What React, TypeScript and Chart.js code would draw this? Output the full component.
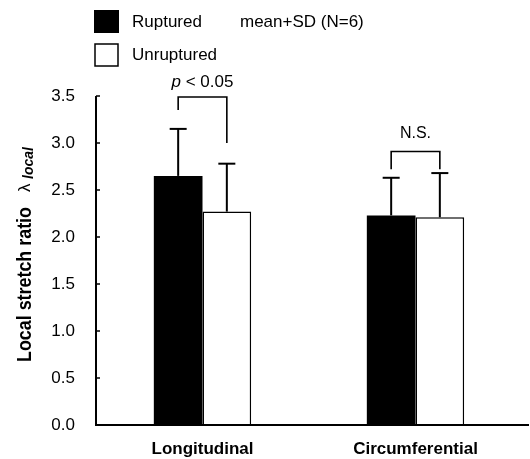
import React, { useEffect, useRef } from "react";
import { Chart, registerables } from "chart.js";

Chart.register(...registerables);

const categories = ["Longitudinal", "Circumferential"];
const rupturedMean = [2.65, 2.23];
const rupturedSD = [0.5, 0.4];
const unrupturedMean = [2.27, 2.21];
const unrupturedSD = [0.51, 0.47];
const yTicks = [0, 0.5, 1.0, 1.5, 2.0, 2.5, 3.0, 3.5];
// significance brackets per category
const bracketTop = [3.49, 2.91];
const bracketLeftEnd = [3.35, 2.72];
const bracketRightEnd = [3.0, 2.72];
const bracketLabels = ["p < 0.05", "N.S."];

const FONT = "'Liberation Sans', Arial, Helvetica, sans-serif";

const overlayPlugin = {
  id: "overlay",
  afterDatasetsDraw(chart: any) {
    const ctx = chart.ctx;
    const y = chart.scales.y;
    const area = chart.chartArea;
    ctx.save();
    ctx.strokeStyle = "#000";
    ctx.fillStyle = "#000";
    // error bars
    const sds = [rupturedSD, unrupturedSD];
    const means = [rupturedMean, unrupturedMean];
    for (let d = 0; d < 2; d++) {
      const meta = chart.getDatasetMeta(d);
      meta.data.forEach((bar: any, i: number) => {
        const yTop = y.getPixelForValue(means[d][i]);
        const yCap = y.getPixelForValue(means[d][i] + sds[d][i]);
        ctx.lineWidth = 2;
        ctx.beginPath();
        ctx.moveTo(bar.x, yTop);
        ctx.lineTo(bar.x, yCap);
        ctx.stroke();
        ctx.beginPath();
        ctx.moveTo(bar.x - 8.5, yCap);
        ctx.lineTo(bar.x + 8.5, yCap);
        ctx.stroke();
      });
    }
    // brackets
    const m0 = chart.getDatasetMeta(0);
    const m1 = chart.getDatasetMeta(1);
    for (let i = 0; i < categories.length; i++) {
      const xl = m0.data[i].x;
      const xr = m1.data[i].x;
      const yt = y.getPixelForValue(bracketTop[i]);
      const yl = y.getPixelForValue(bracketLeftEnd[i]);
      const yr = y.getPixelForValue(bracketRightEnd[i]);
      ctx.lineWidth = 1.6;
      ctx.beginPath();
      ctx.moveTo(xl, yl);
      ctx.lineTo(xl, yt);
      ctx.lineTo(xr, yt);
      ctx.lineTo(xr, yr);
      ctx.stroke();
      const cx = (xl + xr) / 2;
      ctx.textBaseline = "alphabetic";
      if (i === 0) {
        ctx.font = "italic 17px " + FONT;
        const wP = ctx.measureText("p").width;
        ctx.font = "17px " + FONT;
        const rest = " < 0.05";
        const wR = ctx.measureText(rest).width;
        const x0 = cx - (wP + wR) / 2;
        ctx.textAlign = "left";
        ctx.font = "italic 17px " + FONT;
        ctx.fillText("p", x0, yt - 10);
        ctx.font = "17px " + FONT;
        ctx.fillText(rest, x0 + wP, yt - 10);
      } else {
        ctx.font = "16px " + FONT;
        ctx.textAlign = "center";
        ctx.fillText(bracketLabels[i], cx, yt - 13);
      }
    }
    // inward y ticks
    ctx.lineWidth = 1.5;
    yTicks.forEach((v) => {
      const py = y.getPixelForValue(v);
      ctx.beginPath();
      ctx.moveTo(area.left, py);
      ctx.lineTo(area.left + 4, py);
      ctx.stroke();
    });
    // axes lines
    ctx.lineWidth = 2;
    ctx.beginPath();
    ctx.moveTo(area.left, area.top);
    ctx.lineTo(area.left, area.bottom);
    ctx.lineTo(529, area.bottom);
    ctx.stroke();

    // legend
    ctx.fillRect(94, 10, 25, 23);
    ctx.lineWidth = 1.5;
    ctx.strokeRect(95, 44, 23, 22);
    ctx.font = "17px " + FONT;
    ctx.textAlign = "left";
    ctx.textBaseline = "middle";
    ctx.fillText("Ruptured", 132, 22);
    ctx.fillText("mean+SD (N=6)", 240, 22);
    ctx.fillText("Unruptured", 132, 55);

    // y title
    ctx.save();
    ctx.rotate(-Math.PI / 2);
    ctx.textBaseline = "alphabetic";
    ctx.textAlign = "left";
    ctx.font = "bold 20px " + FONT;
    const mainText = "Local stretch ratio";
    const w = ctx.measureText(mainText).width;
    ctx.save();
    ctx.translate(-362, 31);
    ctx.scale(155 / w, 1);
    ctx.fillText(mainText, 0, 0);
    ctx.restore();
    ctx.font = "17px " + FONT;
    ctx.fillText("λ", -192, 30);
    ctx.font = "bold italic 14px " + FONT;
    ctx.fillText("local", -179, 33);
    ctx.restore();
    ctx.restore();
  },
};

export default function App() {
  const ref = useRef<HTMLCanvasElement | null>(null);
  useEffect(() => {
    if (!ref.current) return;
    const chart = new Chart(ref.current, {
      type: "bar",
      data: {
        labels: categories,
        datasets: [
          {
            label: "Ruptured",
            data: rupturedMean,
            backgroundColor: "#000",
            borderColor: "#000",
            borderWidth: 0,
          },
          {
            label: "Unruptured",
            data: unrupturedMean,
            backgroundColor: "#fff",
            borderColor: "#000",
            borderWidth: 1.5,
            borderSkipped: "bottom",
          },
        ],
      },
      options: {
        responsive: false,
        animation: false,
        layout: { padding: { top: 96, right: 8, left: 0, bottom: 0 } },
        datasets: { bar: { barPercentage: 1, categoryPercentage: 0.457 } },
        plugins: { legend: { display: false }, tooltip: { enabled: false } },
        scales: {
          x: {
            grid: { display: false, drawTicks: false },
            border: { display: false },
            ticks: {
              color: "#000",
              font: { family: FONT, size: 17, weight: "bold" },
              padding: 14,
            },
            afterFit: (s: any) => {
              s.height = 34;
            },
          },
          y: {
            min: 0,
            max: 3.5,
            grid: { display: true, drawOnChartArea: false, drawTicks: false },
            border: { display: false },
            ticks: {
              stepSize: 0.5,
              color: "#000",
              font: { family: FONT, size: 17 },
              padding: 21,
              callback: (v: any) => Number(v).toFixed(1),
            },
            afterFit: (s: any) => {
              s.width = 96;
            },
          },
        },
      },
      plugins: [overlayPlugin],
    } as any);
    return () => chart.destroy();
  }, []);
  return (
    <div style={{ position: "fixed", left: 0, top: 0, width: 530, height: 459, background: "#fff" }}>
      <canvas ref={ref} width={530} height={459} style={{ width: 530, height: 459, display: "block" }} />
    </div>
  );
}
